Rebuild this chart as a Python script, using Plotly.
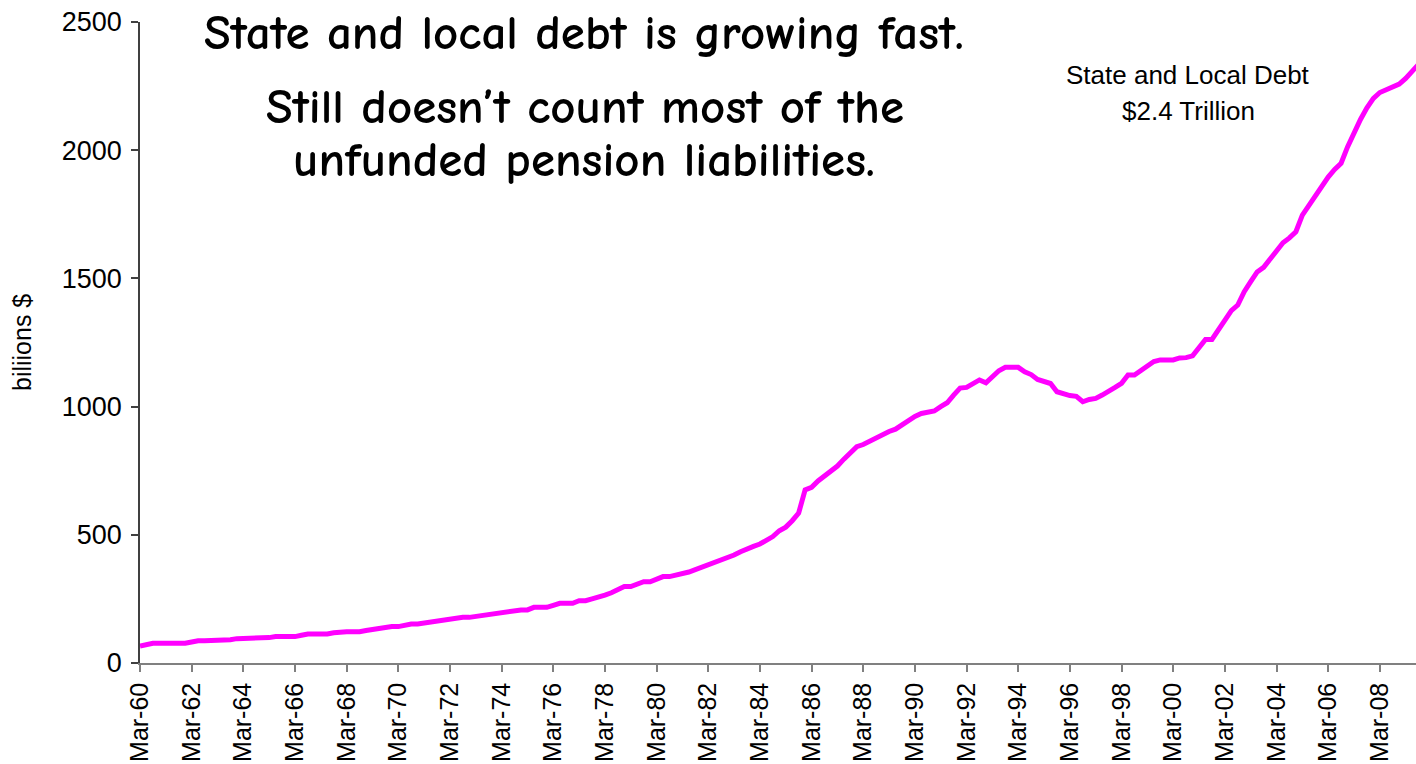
import plotly.graph_objects as go

# Quarterly state and local debt, billions $, Mar-60 onward
debt = [
    66, 72, 77, 77,        # 1960
    77, 77, 77, 77,        # 1961
    82, 87, 87, 87,        # 1962
    87, 87, 91, 95,        # 1963
    95, 95, 95, 95,        # 1964
    99, 103, 103, 103,     # 1965
    103, 108, 113, 113,    # 1966
    113, 113, 118, 122,    # 1967
    122, 122, 122, 127,    # 1968
    131, 131, 136, 142,    # 1969
    142, 147, 152, 152,    # 1970
    156, 160, 164, 168,    # 1971
    168, 172, 178, 178,    # 1972
    182, 187, 187, 193,    # 1973
    198, 200, 204, 207,    # 1974
    207, 217, 217, 217,    # 1975
    225, 233, 233, 233,    # 1976
    243, 243, 250, 256,    # 1977
    265, 274, 286, 298,    # 1978
    298, 307, 317, 317,    # 1979
    325, 337, 337, 342,    # 1980
    347, 355, 364, 373,    # 1981
    382, 391, 402, 412,    # 1982
    421, 434, 447, 455,    # 1983
    464, 480, 493, 516,    # 1984
    530, 555, 585, 675,    # 1985
    685, 710, 730, 746,    # 1986
    768, 795, 822, 844,    # 1987
    852, 866, 880, 893,    # 1988
    903, 912, 930, 948,    # 1989
    962, 973, 980, 983,    # 1990
    1000, 1015, 1045, 1072,  # 1991
    1075, 1088, 1104, 1093,  # 1992
    1115, 1140, 1153, 1153,  # 1993
    1153, 1136, 1125, 1106,  # 1994
    1100, 1090, 1058, 1050,  # 1995
    1043, 1040, 1019, 1028,  # 1996
    1032, 1045, 1058, 1075,  # 1997
    1091, 1123, 1123, 1140,  # 1998
    1160, 1176, 1182, 1182,  # 1999
    1182, 1190, 1191, 1198,  # 2000
    1230, 1262, 1262, 1300,  # 2001
    1340, 1374, 1396, 1448,  # 2002
    1487, 1525, 1543, 1575,  # 2003
    1608, 1639, 1658, 1682,  # 2004
    1747, 1786, 1825, 1860,  # 2005
    1895, 1925, 1949, 2013,  # 2006
    2070, 2120, 2165, 2202,  # 2007
    2225, 2237, 2248, 2258,  # 2008
    2280, 2305, 2335,        # 2009
]

quarter_index = list(range(len(debt)))
tick_positions = list(range(0, 193, 8))
tick_labels = ["Mar-60", "Mar-62", "Mar-64", "Mar-66", "Mar-68", "Mar-70",
               "Mar-72", "Mar-74", "Mar-76", "Mar-78", "Mar-80", "Mar-82",
               "Mar-84", "Mar-86", "Mar-88", "Mar-90", "Mar-92", "Mar-94",
               "Mar-96", "Mar-98", "Mar-00", "Mar-02", "Mar-04", "Mar-06",
               "Mar-08"]
y_ticks = [0, 500, 1000, 1500, 2000, 2500]

W, H = 1416, 764
L, R, T, B = 140, 0, 22, 101
plot_w = W - L - R
plot_h = H - T - B


def px(xp):
    return (xp - L) / plot_w


def py(yp):
    return (H - B - yp) / plot_h


fig = go.Figure()
fig.add_trace(go.Scatter(
    x=quarter_index, y=debt, mode="lines",
    line=dict(color="#FF00FF", width=5),
    hoverinfo="skip", showlegend=False,
))

x_font = dict(family="Liberation Sans, Arial, sans-serif", size=25, color="black")
y_font = dict(family="Liberation Sans, Arial, sans-serif", size=27, color="black")
title_font = dict(family="Comic Sans MS, Comic Neue, DejaVu Sans, sans-serif", size=49, color="black")

fig.update_layout(
    width=W, height=H,
    margin=dict(l=L, r=R, t=T, b=B, pad=0, autoexpand=False),
    paper_bgcolor="white", plot_bgcolor="white",
    showlegend=False,
    xaxis=dict(
        range=[0, 197.6], tickmode="array", tickvals=tick_positions, ticktext=tick_labels,
        tickangle=-90, ticks="outside", ticklen=7, tickwidth=1.5, tickcolor="#808080",
        showline=True, linecolor="#808080", linewidth=1.5, automargin=False,
        showgrid=False, zeroline=False, tickfont=x_font, ticklabelstandoff=1,
        fixedrange=True,
    ),
    yaxis=dict(
        range=[0, 2500], tickmode="array", tickvals=y_ticks,
        ticks="outside", ticklen=7, tickwidth=1.5, tickcolor="#404040",
        showline=True, linecolor="#404040", linewidth=1.5, automargin=False,
        showgrid=False, zeroline=False, tickfont=y_font, ticklabelstandoff=4,
        fixedrange=True,
    ),
    annotations=[
        dict(text="biliions $", x=px(22), y=py(343), xref="paper", yref="paper",
             textangle=-90, showarrow=False, font=dict(family="Liberation Sans, Arial, sans-serif", size=25, color="black"),
             xanchor="center", yanchor="middle"),
        dict(text="<b>State and local debt is growing fast.</b>", x=px(584), y=py(33),
             xref="paper", yref="paper", showarrow=False, font=title_font,
             xanchor="center", yanchor="middle"),
        dict(text="<b>Still doesn’t count most of the</b>", x=px(585), y=py(107),
             xref="paper", yref="paper", showarrow=False, font=title_font,
             xanchor="center", yanchor="middle"),
        dict(text="<b>unfunded pension liabilities.</b>", x=px(584), y=py(160),
             xref="paper", yref="paper", showarrow=False, font=title_font,
             xanchor="center", yanchor="middle"),
        dict(text="State and Local Debt", x=px(1188), y=py(75), xref="paper", yref="paper",
             showarrow=False, font=dict(family="Liberation Sans, Arial, sans-serif", size=26, color="black"),
             xanchor="center", yanchor="middle"),
        dict(text="$2.4 Trillion", x=px(1188), y=py(111), xref="paper", yref="paper",
             showarrow=False, font=dict(family="Liberation Sans, Arial, sans-serif", size=26, color="black"),
             xanchor="center", yanchor="middle"),
    ],
)

fig.write_html("out.html", config={"displayModeBar": False})
